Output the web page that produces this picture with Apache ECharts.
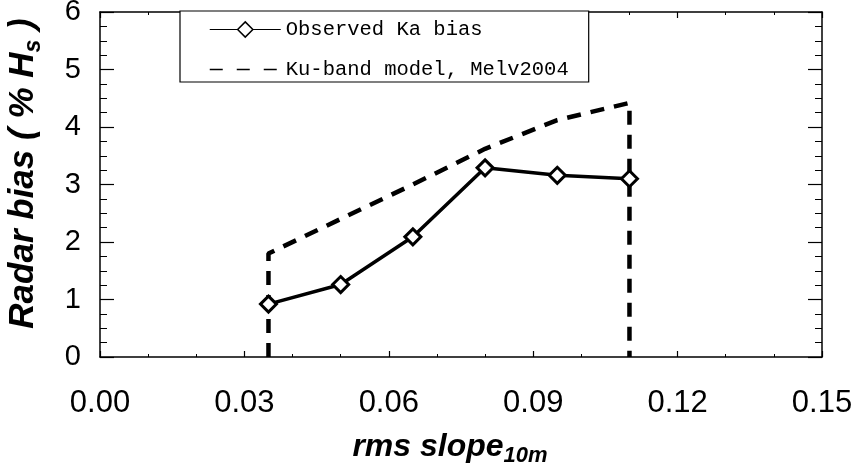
<!DOCTYPE html>
<html>
<head>
<meta charset="utf-8">
<script src="https://cdn.jsdelivr.net/npm/echarts@6/dist/echarts.min.js"></script>
<style>
html,body{margin:0;padding:0;background:#fff;}
#chart{width:857px;height:468px;}
</style>
</head>
<body>
<div id="chart"></div>
<script>
// Observed Ka-band bias
const slope = [0.035, 0.05, 0.065, 0.08, 0.095, 0.11];
const kaBias = [0.92, 1.26, 2.09, 3.29, 3.16, 3.10];
// Ku-band model (Melv2004), with vertical drops at both ends
const kuSlope = [0.035, 0.035, 0.05, 0.065, 0.08, 0.095, 0.11, 0.11];
const kuModel = [0, 1.8, 2.4, 3.0, 3.62, 4.12, 4.42, 0];
// Axis ticks
const xTicks = [0.00, 0.03, 0.06, 0.09, 0.12, 0.15];
const yTicks = [0, 1, 2, 3, 4, 5, 6];
const seriesNames = ['Observed Ka bias', 'Ku-band model, Melv2004'];

const kaData = slope.map((x, i) => [x, kaBias[i]]);
const kuData = kuSlope.map((x, i) => [x, kuModel[i]]);

const chart = echarts.init(document.getElementById('chart'), null, {renderer: 'canvas'});
const black = '#000';
const labelFont = 'Liberation Sans, Arial, sans-serif';

function xAx(pos, showLabel) {
  return {
    type: 'value', position: pos,
    min: xTicks[0], max: xTicks[xTicks.length - 1], interval: 0.03,
    axisLine: {show: true, onZero: false, lineStyle: {color: black, width: 1.5}},
    axisTick: {show: true, inside: true, length: 6, lineStyle: {color: black, width: 1.2}},
    minorTick: {show: true, splitNumber: 3, length: 3, lineStyle: {color: black, width: 1}},
    splitLine: {show: false},
    minorSplitLine: {show: false},
    axisLabel: {show: showLabel, color: black, fontSize: 31, fontFamily: labelFont, margin: 31,
      formatter: v => v.toFixed(2)}
  };
}
function yAx(pos, showLabel) {
  return {
    type: 'value', position: pos,
    min: yTicks[0], max: yTicks[yTicks.length - 1], interval: 1,
    axisLine: {show: true, onZero: false, lineStyle: {color: black, width: 1.5}},
    axisTick: {show: true, inside: true, length: 14, lineStyle: {color: black, width: 1.2}},
    minorTick: {show: true, splitNumber: 4, length: 7, lineStyle: {color: black, width: 1}},
    splitLine: {show: false},
    minorSplitLine: {show: false},
    axisLabel: {show: showLabel, color: black, fontSize: 29, fontFamily: labelFont, margin: 19}
  };
}

const xBottom = xAx('bottom', true);
xBottom.name = '{a|rms slope}{b|10m}';
xBottom.nameLocation = 'middle';
xBottom.nameGap = 70;
xBottom.nameTextStyle = {
  padding: [0, 22, 0, 0],
  rich: {
    a: {fontSize: 32, fontWeight: 'bold', fontStyle: 'italic', fontFamily: labelFont, color: black},
    b: {fontSize: 22, fontWeight: 'bold', fontStyle: 'italic', fontFamily: labelFont, color: black, verticalAlign: 'bottom', lineHeight: 40}
  }
};
const yLeft = yAx('left', true);
yLeft.name = '{a|Radar bias ( % H}{b|s}{a| )}';
yLeft.nameLocation = 'middle';
yLeft.nameGap = 55;
yLeft.nameTextStyle = {
  padding: [0, 0, 0, 22],
  rich: {
    a: {fontSize: 35, fontWeight: 'bold', fontStyle: 'italic', fontFamily: labelFont, color: black},
    b: {fontSize: 23, fontWeight: 'bold', fontStyle: 'italic', fontFamily: labelFont, color: black, verticalAlign: 'bottom', lineHeight: 44}
  }
};

chart.setOption({
  backgroundColor: '#fff',
  animation: false,
  grid: {left: 100, right: 35, top: 12, bottom: 111, containLabel: false, outerBoundsMode: 'none'},
  legend: {
    orient: 'vertical', left: 180, top: 11,
    backgroundColor: '#fff',
    borderColor: black, borderWidth: 1.2, borderRadius: 0,
    padding: [8, 20, 2, 29],
    itemWidth: 71, itemHeight: 19, itemGap: 19,
    textStyle: {color: black, fontSize: 20.5, fontFamily: 'Liberation Mono, Courier New, monospace'},
    data: [
      {name: seriesNames[0], lineStyle: {width: 1.2}, itemStyle: {borderWidth: 1.5, color: '#fff', borderColor: black}},
      {name: seriesNames[1], lineStyle: {width: 1.5, type: [13, 14]}, itemStyle: {color: 'rgba(0,0,0,0)', borderWidth: 0, opacity: 0}}
    ]
  },
  xAxis: [xBottom, xAx('top', false)],
  yAxis: [yLeft, yAx('right', false)],
  series: [
    {
      name: seriesNames[1], type: 'line', data: kuData, symbol: 'none', z: 2,
      lineStyle: {color: black, width: 4.5, type: [14, 10]},
      itemStyle: {color: black}
    },
    {
      name: seriesNames[0], type: 'line', data: kaData, z: 3,
      symbol: 'diamond', symbolSize: 16,
      lineStyle: {color: black, width: 3.5},
      itemStyle: {color: '#fff', borderColor: black, borderWidth: 3}
    }
  ]
});
</script>
</body>
</html>
